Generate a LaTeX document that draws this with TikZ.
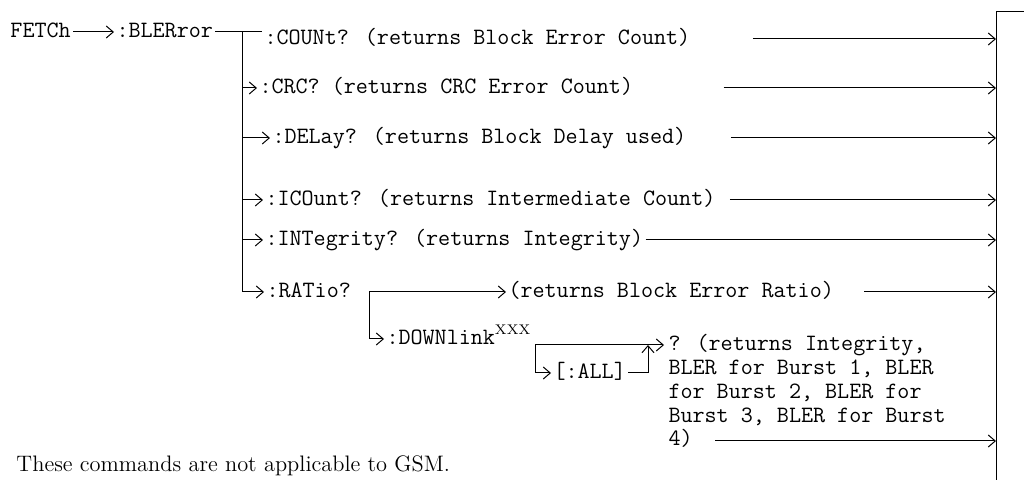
\documentclass[tikz,border=0pt]{standalone}
\usepackage{tikz}
\usetikzlibrary{arrows.meta}

\tikzset{
  cmd/.style={anchor=west,inner xsep=1pt,inner ysep=0pt,
    font=\fontsize{11.7}{11.9}\selectfont\ttfamily,
    text height=1.6ex,text depth=.4ex},
  reply/.style={anchor=north west,inner sep=0pt,align=left,
    font=\fontsize{11.7}{11.9}\selectfont\ttfamily},
  note/.style={anchor=west,inner sep=0pt,font=\fontsize{11.2}{13}\selectfont\rmfamily}
}
\newcommand{\xxx}{\raisebox{1ex}{\rmfamily\fontsize{7}{7}\selectfont XXX}}

\begin{document}
\begin{tikzpicture}[x=0.5pt,y=-0.5pt,line width=0.5pt,
    >={Straight Barb[length=3.5pt,width=6pt]}]
			\useasboundingbox (0,0) rectangle (1024,480);
			\node[cmd] (fetch) at (8,32) {FETCh};
			\node[cmd] (bler) at (114,32) {:BLERror};
			\node[cmd] (count) at (262,39) {:COUNt? (returns Block Error Count)};
			\node[cmd] (crc) at (257,88) {:CRC? (returns CRC Error Count)};
			\node[cmd] (delay) at (270,138) {:DELay? (returns Block Delay used)};
			\node[cmd] (icount) at (263,200) {:ICOunt? (returns Intermediate Count)};
			\node[cmd] (integ) at (263,240) {:INTegrity? (returns Integrity)};
			\node[cmd] (ratio) at (264,292) {:RATio?};
			\node[cmd] (ratret) at (506,292) {(returns Block Error Ratio)};
			\node[cmd] (down) at (384,339) {:DOWNlink\xxx};
			\node[cmd] (all) at (551,373) {[:ALL]};
			\node[reply] (query) at (668,334) {? (returns Integrity,\\BLER for Burst 1, BLER\\for Burst 2, BLER for\\Burst 3, BLER for Burst\\4)};
			\node[note] (gsm) at (16,466) {These commands are not applicable to GSM.};
			\coordinate (bus) at (242,32);
			\coordinate (rbus) at (369,292);
			\coordinate (dbus) at (535,345);
			\coordinate (abus) at (648,345);
			\coordinate (qend) at (715,441);
			\coordinate (wall) at (996,12);
			\coordinate (wallend) at (996,480);
			% main branch
			\draw[->] (fetch) -- (bler);
			\draw (bler.east) -- (bler.east -| count.west);
			\draw[->] (bus) |- (ratio.west);
			\foreach \n in {crc,delay,icount,integ}
				\draw[->] (bus |- \n.west) -- (\n.west);
			% ratio branch
			\draw[->] (rbus) -- (ratret.west);
			\draw[->] (rbus) |- (down.west);
			\draw[->,shorten >=2pt] (dbus) -- (dbus -| query.west);
			\draw[->] (dbus) |- (all.west);
			\draw[->] (all.east) -| (abus);
			% to the right bar
			\draw (1024,12) -- (wall) -- (wallend);
			\draw[->] ([xshift=30pt]count.east) -- (count.east -| wall);
			\draw[->] ([xshift=44pt]crc.east) -- (crc.east -| wall);
			\draw[->] ([xshift=21pt]delay.east) -- (delay.east -| wall);
			\draw[->] ([xshift=6pt]icount.east) -- (icount.east -| wall);
			\draw[->] (integ.east) -- (integ.east -| wall);
			\draw[->] ([xshift=14pt]ratret.east) -- (ratret.east -| wall);
			\draw[->] (qend) -- (qend -| wall);
\end{tikzpicture}
\end{document}
